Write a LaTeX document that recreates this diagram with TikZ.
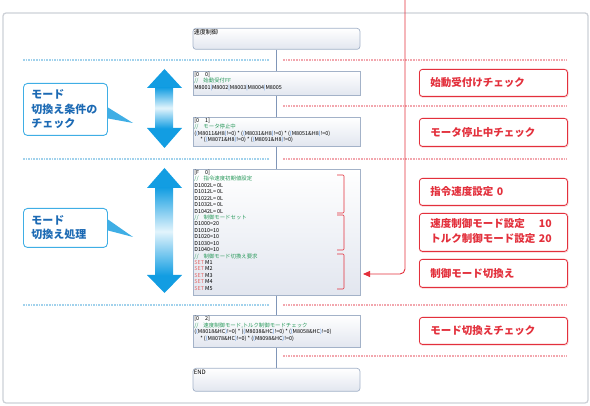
\documentclass[tikz,border=0pt]{standalone}
\usepackage{fontspec}
\newfontfamily\jp{Noto Sans CJK JP}
\usetikzlibrary{arrows.meta}

\definecolor{framegray}{HTML}{CDD1D7}
\definecolor{linkblue}{HTML}{8096B8}
\definecolor{blkline}{HTML}{A3B2C8}
\definecolor{blkfill}{HTML}{E2E6EF}
\definecolor{mkred}{HTML}{E3303C}
\definecolor{mkpink}{HTML}{F9D0D3}
\definecolor{sepblue}{HTML}{A2D2EC}
\definecolor{sepred}{HTML}{F2A7AE}
\definecolor{calblue}{HTML}{3FAEE5}
\definecolor{caltext}{HTML}{1C6AB4}
\definecolor{arrblue}{HTML}{129DE2}
\definecolor{arrlight}{HTML}{E2F4FC}
\definecolor{cdgreen}{HTML}{2A9A5C}
\definecolor{cdblue}{HTML}{3C7FD8}
\definecolor{cdred}{HTML}{E46A6A}

\newcommand{\cdsep}{\textcolor{cdblue}{|}}
\newcommand{\cdl}{\textcolor{cdblue}{(}}
\newcommand{\cdr}{\textcolor{cdblue}{)}}
\newcommand{\cdset}{\textcolor{cdred}{SET}}
\newcommand{\cdcom}[1]{\textcolor{cdgreen}{//\hspace{5pt}#1}}

\begin{document}
\begin{tikzpicture}[x=1pt, y=-1pt,
  blk/.style={draw=blkline, line width=0.9pt, top color=white, bottom color=blkfill,
              anchor=north, minimum width=167, inner sep=0pt},
  endblk/.style={blk, line width=0.7pt, rounded corners=3pt},
  code/.style={font=\jp\fontsize{5.4}{6.43}\selectfont, anchor=north west,
               align=left, inner sep=0pt},
  redbox/.style={draw=mkred, line width=0.8pt, rounded corners=3pt, fill=white,
                 preaction={draw=mkpink, line width=1.8pt, transform canvas={xshift=0.4pt, yshift=-0.4pt}},
                 anchor=north west,
                 text width=126, inner xsep=11pt, inner ysep=0pt, align=left,
                 text=mkred, font=\jp\bfseries\fontsize{10.5}{15}\selectfont},
  callout/.style={draw=calblue, line width=0.9pt, rounded corners=4pt, fill=white,
                  anchor=north west, text width=68, inner xsep=8pt, inner ysep=0pt,
                  align=left, text=caltext, font=\jp\bfseries\fontsize{11}{14.5}\selectfont},
  ptr/.style={fill=calblue},
  link/.style={draw=linkblue, line width=0.9pt},
  sepb/.style={draw=sepblue, line width=1.2pt, dash pattern=on 1.6pt off 1pt},
  sepr/.style={draw=sepred, line width=1.2pt, dash pattern=on 1.6pt off 1pt},
  brace/.style={draw=mkred, line width=0.7pt, rounded corners=1pt}]

\useasboundingbox (0,0) rectangle (590,406);
\draw[framegray, line width=1.3pt, rounded corners=3pt] (3,13) rectangle (588,403);

\draw[sepb] (23,60) -- (270,60);
\draw[sepb] (23,159) -- (270,159);
\draw[sepb] (23,305) -- (270,305);
\draw[sepr] (283,60) -- (567,60);
\draw[sepr] (283,106) -- (567,106);
\draw[sepr] (283,159) -- (567,159);
\draw[sepr] (283,305) -- (567,305);
\draw[sepr] (283,356) -- (567,356);

\coordinate (rtop) at (405,0);
\coordinate (rend) at (363,274);
\draw[mkred, line width=0.9pt, rounded corners=5pt, -{Triangle[length=7pt,width=6pt]}]
  (rtop) |- (rend);

\node[endblk, minimum height=21] (b0) at (276.5,28) {};
\node[blk, minimum height=24] (b1) at (276.5,71) {};
\node[blk, minimum height=29] (b2) at (276.5,117) {};
\node[blk, line width=0.6pt, minimum height=126] (b3) at (276.5,169) {};
\node[blk, minimum height=32] (b4) at (276.5,315) {};
\node[endblk, minimum height=23] (b5) at (276.5,368) {};

\draw[link] (b0.south) -- (b1.north);
\draw[link] (b1.south) -- (b2.north);
\draw[link] (b2.south) -- (b3.north);
\draw[link] (b3.south) -- (b4.north);
\draw[link] (b4.south) -- (b5.north);

\node[code, font=\jp\fontsize{6}{7}\selectfont] (b0t) at ([xshift=1,yshift=-1.5]b0.north west) {速度制御};
\node[code] (b1t) at ([xshift=1.5,yshift=-1]b1.north west)
  {[0\hspace{6pt}0]\\\cdcom{始動受付FF}\\M8001\cdsep M8002\cdsep M8003\cdsep M8004\cdsep M8005};
\node[code] (b2t) at ([xshift=1.5,yshift=-1]b2.north west)
  {[0\hspace{6pt}1]\\\cdcom{モータ停止中}\\
   (\cdl M8011\&H8\cdr!=0) * (\cdl M8031\&H8\cdr!=0) * (\cdl M8051\&H8\cdr!=0)\\
   \hspace{6pt}* (\cdl M8071\&H8\cdr!=0) * (\cdl M8091\&H8\cdr!=0)};
\node[code] (b3t) at ([xshift=1.5,yshift=-1]b3.north west)
  {[F\hspace{6pt}0]\\\cdcom{指令速度初期値設定}\\
   D1002L= 0L\\D1012L= 0L\\D1022L= 0L\\D1032L= 0L\\D1042L= 0L\\
   \cdcom{制御モードセット}\\
   D1000=20\\D1010=10\\D1020=10\\D1030=10\\D1040=10\\
   \cdcom{制御モード切換え要求}\\
   \cdset\ M1\\\cdset\ M2\\\cdset\ M3\\\cdset\ M4\\\cdset\ M5};
\node[code] (b4t) at ([xshift=1.5,yshift=-1.5]b4.north west)
  {[0\hspace{6pt}2]\\\cdcom{速度制御モード,トルク制御モードチェック}\\
   (\cdl M8018\&HC\cdr!=0) * (\cdl M8038\&HC\cdr!=0) * (\cdl M8058\&HC\cdr!=0)\\
   \hspace{6pt}* (\cdl M8078\&HC\cdr!=0) * (\cdl M8098\&HC\cdr!=0)};
\node[code, font=\jp\fontsize{6}{7}\selectfont] (b5t) at ([xshift=1,yshift=-1.5]b5.north west) {END};

\draw[brace] (337,175) -- (344,175) -- (344,213) -- (337,213);
\draw[brace] (337,215) -- (344,215) -- (344,250) -- (337,250);
\draw[brace] (337,254) -- (344,254) -- (344,289) -- (337,289);

\node[redbox, minimum height=27] (r1) at (419,69) {始動受付けチェック};
\node[redbox, minimum height=28] (r2) at (419,118) {モータ停止中チェック};
\node[redbox, minimum height=27] (r3) at (419,178) {指令速度設定 0};
\node[redbox, minimum height=38] (r4) at (419,213)
  {\begin{tabular}{@{}l@{\ }r@{}}速度制御モード設定&10\\トルク制御モード設定&20\end{tabular}};
\node[redbox, minimum height=28] (r5) at (419,259) {制御モード切換え};
\node[redbox, minimum height=27] (r6) at (419,317) {モード切換えチェック};

\node[callout, minimum height=52] (c1) at (23,83) {モード\\切換え条件の\\チェック};
\node[callout, minimum height=39, font=\jp\bfseries\fontsize{11}{14}\selectfont] (c2) at (23,208)
  {モード\\切換え処理};
\coordinate (p1) at (133,123);
\coordinate (p2) at (133,237);
\fill[ptr] ([yshift=2]c1.east) -- (p1) -- ([yshift=-9]c1.east) -- cycle;
\fill[ptr] ([yshift=8.5]c2.east) -- (p2) -- ([yshift=-2.5]c2.east) -- cycle;

\fill[arrblue] (147,88) -- (164.5,69) -- (182,88) -- cycle;
\fill[arrblue] (147,128) -- (164.5,148) -- (182,128) -- cycle;
\shade[top color=arrblue, bottom color=arrblue, middle color=arrlight] (155,87.5) rectangle (173,128.5);
\fill[arrblue] (147,188) -- (164.5,168) -- (182,188) -- cycle;
\fill[arrblue] (147,275) -- (164.5,293) -- (182,275) -- cycle;
\shade[top color=arrblue, bottom color=arrblue, middle color=arrlight] (155,187.5) rectangle (173,275.5);
\end{tikzpicture}
\end{document}
